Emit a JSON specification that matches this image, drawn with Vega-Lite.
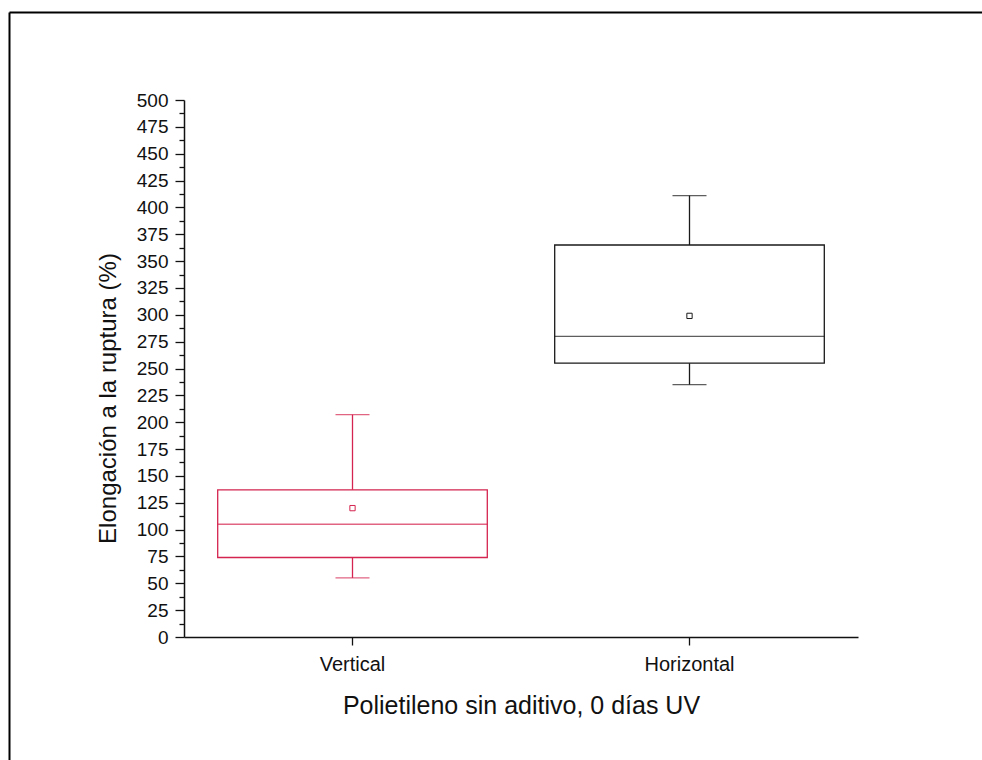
{
  "$schema": "https://vega.github.io/schema/vega-lite/v6.json",
  "width": 973,
  "height": 748,
  "autosize": "none",
  "padding": {"left": 9, "top": 12, "right": 0, "bottom": 0},
  "background": "white",
  "config": {
    "view": {"stroke": null},
    "font": "Liberation Sans",
    "axis": {"grid": false, "labelFont": "Liberation Sans", "titleFont": "Liberation Sans", "titleFontWeight": "normal", "labelColor": "#111", "titleColor": "#111", "domainColor": "#111", "tickColor": "#111"}
  },
  "data": {
    "values": [
      {"group": "Vertical", "min": 55, "q1": 74, "median": 105, "q3": 137, "max": 207, "mean": 120},
      {"group": "Horizontal", "min": 235, "q1": 255, "median": 280, "q3": 365, "max": 411, "mean": 299}
    ]
  },
  "layer": [
    {
      "encoding": {
        "x": {
          "field": "group", "type": "nominal", "sort": ["Vertical", "Horizontal"],
          "scale": {"type": "band", "range": [175, 849], "paddingInner": 0, "paddingOuter": 0},
          "axis": {"orient": "bottom", "offset": -123, "title": "Polietileno sin aditivo, 0 días UV", "titleFontSize": 25, "titlePadding": 19, "labelFontSize": 20, "labelPadding": 9, "labelAngle": 0, "tickSize": 8, "tickWidth": 1.3, "domainWidth": 1.5}
        }
      },
      "layer": [
        {
          "mark": {"type": "rule", "strokeWidth": 1.3},
          "encoding": {
            "y": {"field": "min", "type": "quantitative", "axis": null,
              "scale": {"domain": [0, 500], "range": [625, 88], "nice": false, "zero": false}},
            "y2": {"field": "max"},
            "color": {"field": "group", "type": "nominal", "scale": {"domain": ["Vertical", "Horizontal"], "range": ["#d4244f", "#1a1a1a"]}, "legend": null}
          }
        },
        {
          "mark": {"type": "bar", "fill": "white", "strokeWidth": 1.3, "width": {"band": 0.8}},
          "encoding": {
            "y": {"field": "q1", "type": "quantitative", "axis": null},
            "y2": {"field": "q3"},
            "stroke": {"field": "group", "type": "nominal", "scale": {"domain": ["Vertical", "Horizontal"], "range": ["#d4244f", "#1a1a1a"]}, "legend": null}
          }
        },
        {
          "mark": {"type": "tick", "size": 270, "thickness": 1.3},
          "encoding": {
            "y": {"field": "median", "type": "quantitative", "axis": null},
            "color": {"field": "group", "type": "nominal", "legend": null}
          }
        },
        {
          "mark": {"type": "tick", "size": 34, "thickness": 1.3},
          "encoding": {
            "y": {"field": "min", "type": "quantitative", "axis": null},
            "color": {"field": "group", "type": "nominal", "legend": null}
          }
        },
        {
          "mark": {"type": "tick", "size": 34, "thickness": 1.3},
          "encoding": {
            "y": {"field": "max", "type": "quantitative", "axis": null},
            "color": {"field": "group", "type": "nominal", "legend": null}
          }
        },
        {
          "mark": {"type": "point", "shape": "square", "size": 28, "filled": false, "strokeWidth": 1, "opacity": 1},
          "encoding": {
            "y": {"field": "mean", "type": "quantitative", "axis": null},
            "color": {"field": "group", "type": "nominal", "legend": null}
          }
        }
      ]
    },
    {
      "mark": {"type": "point", "opacity": 0},
      "encoding": {
        "x": {"field": "group", "type": "nominal", "scale": {"type": "point"}, "axis": {"orient": "top", "domainWidth": 2, "domainColor": "black", "ticks": false, "labels": false, "title": null}},
        "y": {"field": "max", "type": "quantitative", "axis": {"orient": "left", "domainWidth": 2, "domainColor": "black", "ticks": false, "labels": false, "title": null}}
      }
    },
    {
      "mark": {"type": "point", "opacity": 0},
      "encoding": {
        "y": {"field": "min", "type": "quantitative", "title": "Elongación a la ruptura (%)",
          "scale": {"domain": [0, 500], "range": [625, 88], "nice": false, "zero": false},
          "axis": {"orient": "left", "offset": -175, "values": [0,25,50,75,100,125,150,175,200,225,250,275,300,325,350,375,400,425,450,475,500],
            "labelOverlap": false, "labelFlush": false, "labelBound": false,
            "tickSize": 9, "tickWidth": 1.3, "domainWidth": 1.5, "labelFontSize": 19, "labelPadding": 7, "titleFontSize": 24, "titlePadding": 16, "titleY": 386}}
      }
    },
    {
      "mark": {"type": "point", "opacity": 0},
      "encoding": {
        "y": {"field": "min", "type": "quantitative",
          "scale": {"domain": [0, 500], "range": [625, 88], "nice": false, "zero": false},
          "axis": {"orient": "left", "offset": -175, "values": [12.5,37.5,62.5,87.5,112.5,137.5,162.5,187.5,212.5,237.5,262.5,287.5,312.5,337.5,362.5,387.5,412.5,437.5,462.5,487.5],
            "labels": false, "domain": false, "title": null, "tickSize": 5, "tickWidth": 1.3}}
      }
    }
  ],
  "resolve": {"scale": {"x": "independent", "y": "independent", "color": "independent"}, "axis": {"x": "independent", "y": "independent"}}
}
